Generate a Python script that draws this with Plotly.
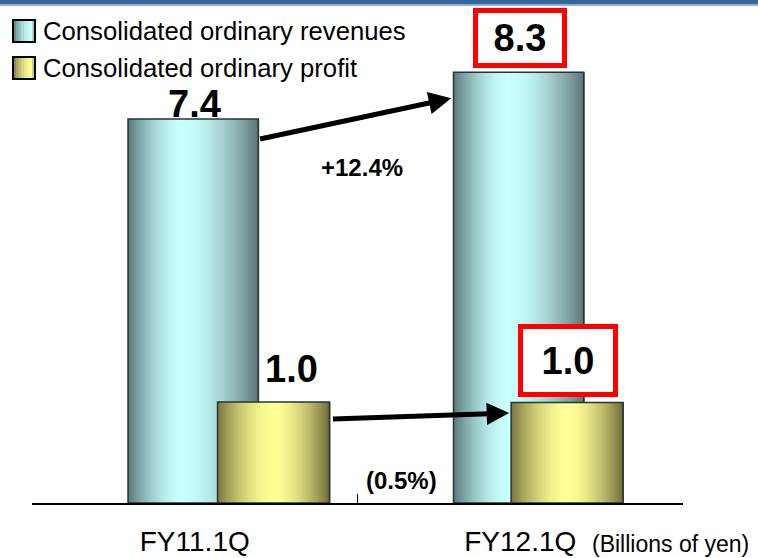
import plotly.graph_objects as go


# ==========================================================
# DATA
# ==========================================================

categories = ["FY11.1Q", "FY12.1Q"]
revenues = [7.4, 8.3]
profits = [1.0, 0.995]
revenue_labels = ["7.4", "8.3"]
profit_labels = ["1.0", "1.0"]
revenue_change = "+12.4%"
profit_change = "(0.5%)"
series_names = ["Consolidated ordinary revenues", "Consolidated ordinary profit"]
unit_label = "(Billions of yen)"

FONT = "Liberation Sans, Arial, sans-serif"

# plot area in pixels (used to place decorations in paper coords)
PX_L, PX_R, PX_T, PX_B = 32, 683, 0, 503


def paper_x(px):
    return (px - PX_L) / (PX_R - PX_L)


def paper_y(py):
    return (PX_B - py) / (PX_B - PX_T)


# ==========================================================
# CYLINDER GRADIENT
# ==========================================================

def shade(dark_l, light, dark_r, peak, t):
    if t < peak:
        d = (peak - t) / peak
        dark = dark_l
    else:
        d = (t - peak) / (1 - peak)
        dark = dark_r
    s = 1 - d ** 1.7
    rgb = [round(a + (b - a) * s) for a, b in zip(dark, light)]
    return f"rgb({rgb[0]},{rgb[1]},{rgb[2]})"


REV_DARK_L, REV_LIGHT, REV_DARK_R = (88, 122, 122), (202, 255, 255), (92, 118, 118)
PRO_DARK_L, PRO_LIGHT, PRO_DARK_R = (122, 118, 62), (255, 255, 150), (110, 108, 56)

N = 64

fig = go.Figure()


def add_cylinder(values, offsets, width, colors, yaxis, name):
    step = width / N
    for i in range(N):
        t = (i + 0.5) / N
        fig.add_trace(go.Bar(
            x=categories,
            y=values,
            offset=[o + i * step for o in offsets],
            width=step * (2.5 if i < N - 1 else 1.0),
            marker=dict(color=shade(*colors, t), line=dict(width=0)),
            yaxis=yaxis,
            showlegend=False,
            hoverinfo="skip"
        ))
    fig.add_trace(go.Bar(
        x=categories,
        y=values,
        offset=offsets,
        width=width,
        name=name,
        marker=dict(color="rgba(0,0,0,0)", line=dict(color="#263535", width=1.5)),
        yaxis=yaxis,
        showlegend=False
    ))


add_cylinder(revenues, [-0.205, -0.205], 0.40,
             (REV_DARK_L, REV_LIGHT, REV_DARK_R, 0.42), "y", series_names[0])
add_cylinder(profits, [0.07, -0.028], 0.344,
             (PRO_DARK_L, PRO_LIGHT, PRO_DARK_R, 0.5), "y2", series_names[1])


# ==========================================================
# LABELS AND ARROWS
# ==========================================================

annotations = []

# 7.4 above first revenue bar
annotations.append(dict(
    x=categories[0], y=revenues[0], xref="x", yref="y",
    text=f"<b>{revenue_labels[0]}</b>", showarrow=False,
    xanchor="center", yanchor="bottom", yshift=-8,
    font=dict(size=38, color="black", family=FONT)
))

# 8.3 in red box
annotations.append(dict(
    x=categories[1], y=revenues[1], xref="x", yref="y",
    text=f"<b>{revenue_labels[1]}</b>", showarrow=False,
    xanchor="center", yanchor="bottom", yshift=4, width=76, height=42,
    bordercolor="#ff0000", borderwidth=5, borderpad=4, bgcolor="white",
    font=dict(size=38, color="black", family=FONT)
))

# 1.0 next to first profit bar
annotations.append(dict(
    x=0.298, y=profits[0], xref="x", yref="y2",
    text=f"<b>{profit_labels[0]}</b>", showarrow=False,
    xanchor="center", yanchor="bottom", yshift=10,
    font=dict(size=38, color="black", family=FONT)
))

# 1.0 in red box
annotations.append(dict(
    x=1.146, y=profits[1], xref="x", yref="y2",
    text=f"<b>{profit_labels[1]}</b>", showarrow=False,
    xanchor="center", yanchor="bottom", yshift=6, width=82, height=55,
    bordercolor="#ff0000", borderwidth=5, borderpad=4, bgcolor="white",
    font=dict(size=38, color="black", family=FONT)
))

# growth labels
annotations.append(dict(
    x=paper_x(362), y=paper_y(167), xref="paper", yref="paper",
    text=f"<b>{revenue_change}</b>", showarrow=False,
    xanchor="center", yanchor="middle",
    font=dict(size=24, color="black", family=FONT)
))
annotations.append(dict(
    x=paper_x(401), y=paper_y(480), xref="paper", yref="paper",
    text=f"<b>{profit_change}</b>", showarrow=False,
    xanchor="center", yanchor="middle",
    font=dict(size=24, color="black", family=FONT)
))

# arrows
annotations.append(dict(
    x=0.788, y=7.80, ax=0.196, ay=7.01,
    xref="x", yref="y", axref="x", ayref="y",
    text="", showarrow=True, arrowhead=2, arrowsize=0.9,
    arrowwidth=5, arrowcolor="black", standoff=0, startstandoff=0
))
annotations.append(dict(
    x=0.966, y=0.89, ax=0.42, ay=0.83,
    xref="x", yref="y2", axref="x", ayref="y2",
    text="", showarrow=True, arrowhead=2, arrowsize=0.9,
    arrowwidth=5, arrowcolor="black", standoff=0, startstandoff=0
))

# unit label
annotations.append(dict(
    x=paper_x(670), y=paper_y(544), xref="paper", yref="paper",
    text=unit_label, showarrow=False,
    xanchor="center", yanchor="middle",
    font=dict(size=23, color="black", family=FONT)
))

# legend texts
legend_rows = [31, 68]
for name, row in zip(series_names, legend_rows):
    annotations.append(dict(
        x=paper_x(41), y=paper_y(row), xref="paper", yref="paper",
        text=name, showarrow=False, xanchor="left", yanchor="middle",
        font=dict(size=25.7, color="black", family=FONT)
    ))


# ==========================================================
# SHAPES (header bar, legend boxes)
# ==========================================================

shapes = [
    dict(type="rect", xref="paper", yref="paper",
         x0=paper_x(0), x1=paper_x(758), y0=paper_y(4), y1=paper_y(0),
         fillcolor="#35679a", line=dict(width=0), layer="above"),
    dict(type="rect", xref="paper", yref="paper",
         x0=paper_x(0), x1=paper_x(758), y0=paper_y(6), y1=paper_y(4),
         fillcolor="#8fb0d0", line=dict(width=0), layer="above"),
]

legend_boxes = [
    ((REV_DARK_L, REV_LIGHT, REV_DARK_R, 0.85), 20),
    ((PRO_DARK_L, PRO_LIGHT, PRO_DARK_R, 0.85), 57),
]
for colors, top in legend_boxes:
    k = 8
    for i in range(k):
        x0 = 13 + 22 * i / k
        shapes.append(dict(
            type="rect", xref="paper", yref="paper",
            x0=paper_x(x0), x1=paper_x(x0 + 22 / k + 0.5),
            y0=paper_y(top + 22), y1=paper_y(top),
            fillcolor=shade(*colors, (i + 0.5) / k), line=dict(width=0)
        ))
    shapes.append(dict(
        type="rect", xref="paper", yref="paper",
        x0=paper_x(13), x1=paper_x(35), y0=paper_y(top + 22), y1=paper_y(top),
        line=dict(color="black", width=2)
    ))


# ==========================================================
# LAYOUT
# ==========================================================

fig.update_layout(
    width=758,
    height=558,
    margin=dict(l=PX_L, r=758 - PX_R, t=PX_T, b=558 - PX_B, pad=0),
    paper_bgcolor="white",
    plot_bgcolor="white",
    barmode="overlay",
    showlegend=False,
    font=dict(family=FONT, color="black"),
    annotations=annotations,
    shapes=shapes,
    xaxis=dict(
        type="category",
        range=[-0.5, 1.5],
        automargin=False,
        showline=True,
        linecolor="black",
        linewidth=1.5,
        ticks="inside",
        tickson="boundaries",
        ticklen=9,
        tickwidth=1,
        tickcolor="black",
        ticklabelstandoff=13,
        tickfont=dict(size=28, color="black", family=FONT),
        showgrid=False,
        zeroline=False,
        fixedrange=True
    ),
    yaxis=dict(range=[0, 503 / 51.89], visible=False, showgrid=False,
               automargin=False),
    yaxis2=dict(range=[0, 503 / 101], visible=False, showgrid=False,
                overlaying="y", automargin=False),
)

fig.write_html(
    "out.html",
    config={"displayModeBar": False},
    post_script="document.body.style.margin='0';"
)
